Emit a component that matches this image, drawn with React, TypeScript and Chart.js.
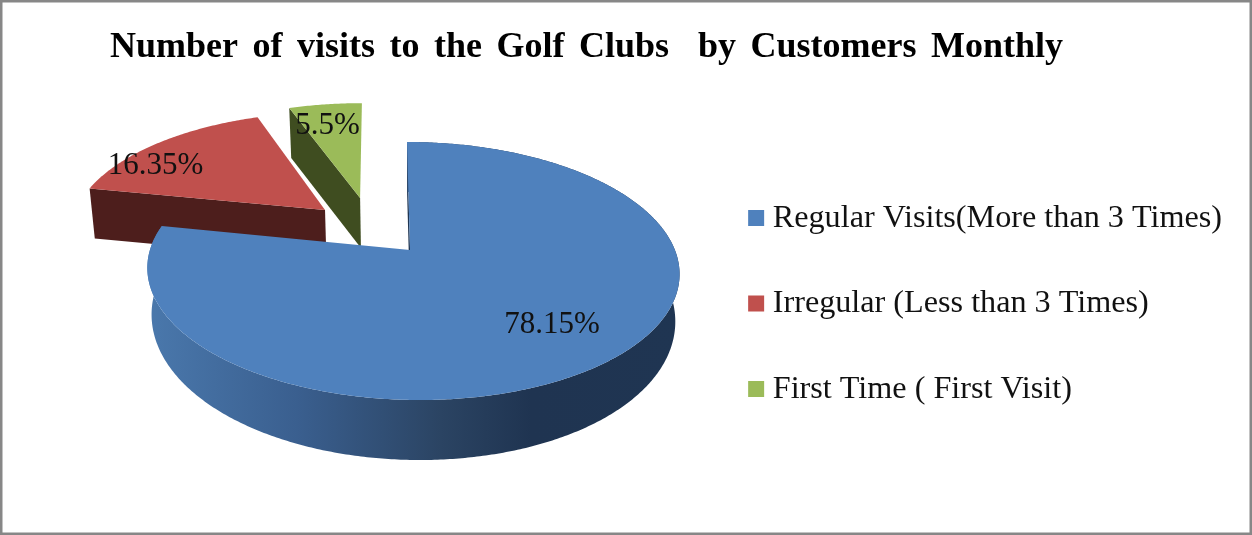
import React, { useEffect, useRef } from "react";
import { Chart, registerables } from "chart.js";

Chart.register(...registerables);

const categories = [
  "Regular Visits(More than 3 Times)",
  "Irregular (Less than 3 Times)",
  "First Time ( First Visit)",
];
const shares = [78.15, 16.35, 5.5];
const shareLabels = ["78.15%", "16.35%", "5.5%"];
const topColors = ["#4f81bd", "#c0504d", "#9bbb59"];
const sideColors = ["#1f3552", "#4d1e1c", "#3f4d20"];
const chartTitle = "Number of visits to the Golf Clubs  by Customers Monthly";

const SERIF = '"Liberation Serif", "Times New Roman", serif';

// Camera used to lay the unit disc of the pie onto the canvas.
const camera = { cx: 412.4, cy: 250, rx: 262.5, ry: 125.6, k: 0.1628, shear: -6.3 };
// How far each slice is pulled out of the pie, in disc radii.
const sliceShift = [
  { u: -0.009, v: 0 },
  { u: -0.343, v: 0.336 },
  { u: -0.203, v: 0.444 },
];
// Where each percentage sits, in disc coordinates.
const labelAnchors = [
  { u: 0.472, v: -0.54 },
  { u: -1.081, v: 0.755 },
  { u: -0.357, v: 1.175 },
];

type Pt = { x: number; y: number };

function topPoint(u: number, v: number): Pt {
  const s = 1 / (1 + camera.k * v);
  return {
    x: camera.cx + camera.rx * u * s + camera.shear * v * s,
    y: camera.cy - camera.ry * v * s,
  };
}

function basePoint(u: number, v: number): Pt {
  const p = topPoint(u, v);
  const depth = v < 0 ? 44.5 - 15.5 * v : 50;
  return {
    x: camera.cx + (p.x - camera.cx) * 0.984,
    y: p.y + depth,
  };
}

function tracePolygon(ctx: CanvasRenderingContext2D, pts: Pt[]) {
  ctx.beginPath();
  pts.forEach((p, i) => (i ? ctx.lineTo(p.x, p.y) : ctx.moveTo(p.x, p.y)));
  ctx.closePath();
}

function rimAngles(start: number, end: number): number[] {
  const n = Math.max(8, Math.ceil((end - start) / 0.01));
  const out: number[] = [];
  for (let i = 0; i <= n; i++) out.push(start + ((end - start) * i) / n);
  return out;
}

// Draws the arcs computed by the doughnut controller as an extruded, tilted pie.
const tiltedPie = {
  id: "tiltedPie",
  beforeDraw(chart: any) {
    // The heading is set with wider gaps between its words.
    const block = chart.titleBlock;
    if (block && !block.spaced) {
      const draw = block.draw.bind(block);
      block.draw = () => {
        chart.ctx.wordSpacing = "5.5px";
        draw();
        chart.ctx.wordSpacing = "0px";
      };
      block.spaced = true;
    }
  },
  beforeDatasetsDraw(chart: any) {
    const { ctx } = chart;
    const arcs = chart.getDatasetMeta(0).data;
    const order = [2, 1, 0];
    ctx.save();
    for (const i of order) {
      const { startAngle, endAngle } = arcs[i];
      const shift = sliceShift[i];
      const angles = rimAngles(startAngle, endAngle);
      const disc = angles.map((a) =>
        i === 0
          ? { u: Math.cos(a), v: -Math.sin(a) }
          : { u: shift.u + Math.cos(a), v: shift.v - Math.sin(a) }
      );
      const first = disc[0];

      // Radial wall facing the viewer
      tracePolygon(ctx, [
        topPoint(shift.u, shift.v),
        topPoint(first.u, first.v),
        basePoint(first.u, first.v),
        basePoint(shift.u, shift.v),
      ]);
      ctx.fillStyle = sideColors[i];
      ctx.fill();

      // Curved outer wall of the front slice
      if (i === 0) {
        const wall = [
          ...disc.map((d) => topPoint(d.u, d.v)),
          ...disc.slice().reverse().map((d) => basePoint(d.u, d.v)),
        ];
        const g = ctx.createLinearGradient(148, 0, 680, 0);
        g.addColorStop(0, "#4a78ac");
        g.addColorStop(0.28, "#3a5f8f");
        g.addColorStop(0.55, "#2b4463");
        g.addColorStop(0.72, "#1f3451");
        g.addColorStop(1, "#1f3552");
        tracePolygon(ctx, wall);
        ctx.fillStyle = g;
        ctx.fill();
      }
    }
    for (const i of order) {
      const { startAngle, endAngle } = arcs[i];
      const shift = sliceShift[i];
      const angles = rimAngles(startAngle, endAngle);
      const rim = angles.map((a) =>
        i === 0
          ? topPoint(Math.cos(a), -Math.sin(a))
          : topPoint(shift.u + Math.cos(a), shift.v - Math.sin(a))
      );
      tracePolygon(ctx, [topPoint(shift.u, shift.v), ...rim]);
      ctx.fillStyle = arcs[i].options.backgroundColor;
      ctx.fill();
    }
    ctx.font = `31px ${SERIF}`;
    ctx.fillStyle = "#111111";
    ctx.textAlign = "center";
    ctx.textBaseline = "middle";
    shareLabels.forEach((text, i) => {
      const p = topPoint(labelAnchors[i].u, labelAnchors[i].v);
      ctx.fillText(text, p.x, p.y);
    });
    ctx.restore();
    return false;
  },
  afterDraw(chart: any) {
    const { ctx, width, height } = chart;
    ctx.save();
    ctx.strokeStyle = "#878787";
    ctx.lineWidth = 2.5;
    ctx.strokeRect(1.25, 1.25, width - 2.5, height - 2.5);
    ctx.restore();
  },
};

export default function App() {
  const canvasRef = useRef<HTMLCanvasElement>(null);

  useEffect(() => {
    document.body.style.margin = "0";
    const chart = new Chart(canvasRef.current as HTMLCanvasElement, {
      type: "pie",
      data: {
        labels: categories,
        datasets: [
          {
            data: shares,
            backgroundColor: topColors,
            borderWidth: 0,
          },
        ],
      },
      options: {
        responsive: false,
        animation: false,
        layout: { padding: { left: 110, right: 20, top: 0, bottom: 0 } },
        plugins: {
          tooltip: { enabled: false },
          title: {
            display: true,
            text: chartTitle,
            align: "start",
            color: "#000000",
            padding: { top: 26, bottom: 3 },
            font: { family: SERIF, size: 36, weight: "bold" },
          },
          legend: {
            display: true,
            position: "right",
            fullSize: false,
            labels: {
              usePointStyle: true,
              pointStyle: "rect",
              boxWidth: 1,
              boxHeight: 16,
              padding: 53.3,
              color: "#111111",
              font: { family: SERIF, size: 32.2 },
            },
          },
        },
      },
      plugins: [tiltedPie],
    } as any);
    return () => chart.destroy();
  }, []);

  return <canvas ref={canvasRef} width={1252} height={535} style={{ display: "block", background: "#ffffff" }} />;
}
